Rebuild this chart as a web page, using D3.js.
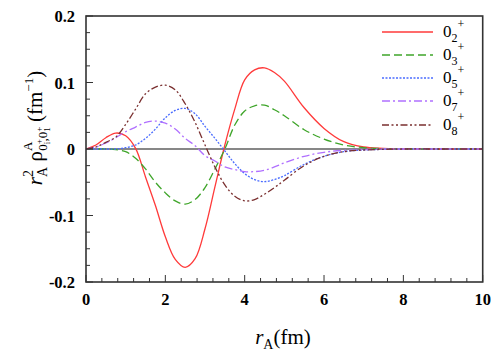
<!DOCTYPE html>
<html><head><meta charset="utf-8">
<script src="https://cdn.jsdelivr.net/npm/d3@7"></script>
<style>body{margin:0;background:#fff}svg{display:block}</style>
</head><body>
<svg id="c" width="498" height="363"></svg>
<script>
const xs = [0,0.25,0.5,0.75,1,1.25,1.5,1.75,2,2.25,2.5,2.75,3,3.25,3.5,3.75,4,4.25,4.5,4.75,5,5.5,6,6.5,7,7.5,8,9,10];
const red02    = [0,0.006,0.017,0.024,0.020,0.001,-0.042,-0.085,-0.132,-0.166,-0.178,-0.165,-0.120,-0.057,0.006,0.060,0.104,0.119,0.122,0.115,0.102,0.062,0.031,0.011,0.003,0.001,0,0,0];
const green03  = [0,0,0,-0.001,-0.004,-0.014,-0.030,-0.050,-0.066,-0.078,-0.083,-0.076,-0.058,-0.030,0.0,0.036,0.057,0.065,0.066,0.059,0.050,0.029,0.015,0.006,0.002,0.0005,0,0,0];
const blue05   = [0,0,0,0,0.002,0.006,0.016,0.030,0.047,0.058,0.061,0.053,0.034,0.016,-0.003,-0.022,-0.037,-0.046,-0.049,-0.046,-0.040,-0.023,-0.011,-0.004,-0.0015,-0.0005,0,0,0];
const purple07 = [0,0.003,0.009,0.017,0.026,0.033,0.040,0.042,0.039,0.030,0.016,0.005,-0.010,-0.018,-0.027,-0.031,-0.034,-0.034,-0.032,-0.027,-0.021,-0.011,-0.005,-0.002,-0.001,0,0,0,0];
const brown08  = [0,0.003,0.010,0.018,0.037,0.060,0.083,0.093,0.096,0.089,0.068,0.040,0.006,-0.027,-0.054,-0.071,-0.078,-0.076,-0.068,-0.058,-0.047,-0.025,-0.011,-0.004,-0.0015,-0.0005,0,0,0];
const seriesNames = ["2","3","5","7","8"];
const xTicks = [0,2,4,6,8,10];
const yTicks = [-0.2,-0.1,0,0.1,0.2];
const yTickLabels = ["-0.2","-0.1","0","0.1","0.2"];

const series = [
  {name:seriesNames[0], vals:red02,    color:"#ff3a3a", dash:null},
  {name:seriesNames[1], vals:green03,  color:"#3fa52a", dash:"8,4"},
  {name:seriesNames[2], vals:blue05,   color:"#4a6cff", dash:"2,1.5"},
  {name:seriesNames[3], vals:purple07, color:"#b070ff", dash:"8,3,2,3"},
  {name:seriesNames[4], vals:brown08,  color:"#7a2f2f", dash:"7,2.5,2,2.5,2,2.5"}
];

const FF = "Liberation Serif";
const svg = d3.select("#c");
const L=86, R=482.7, T=16, B=282;
const x = d3.scaleLinear().domain([0,10]).range([L,R]);
const y = d3.scaleLinear().domain([-0.2,0.2]).range([B,T]);

svg.append("line").attr("x1",x(0)).attr("x2",x(10)).attr("y1",y(0)).attr("y2",y(0))
  .attr("stroke","#111").attr("stroke-width",1.2);

const line = d3.line().x((d,i)=>x(xs[i])).y(d=>y(d)).curve(d3.curveCatmullRom.alpha(0.5));
series.forEach(s=>{
  svg.append("path").attr("d",line(s.vals)).attr("fill","none")
    .attr("stroke",s.color).attr("stroke-width",1.3)
    .attr("stroke-dasharray",s.dash);
});

svg.append("rect").attr("x",L).attr("y",T).attr("width",R-L).attr("height",B-T)
  .attr("fill","none").attr("stroke","#333").attr("stroke-width",1.6);

const xMinor = d3.range(0,10.0001,0.4);
svg.append("g").selectAll("line").data(xMinor).join("line")
  .attr("x1",d=>x(d)).attr("x2",d=>x(d)).attr("y1",B).attr("y2",d=>B-((Math.abs(d/2-Math.round(d/2))<1e-6)?7:4))
  .attr("stroke","#333").attr("stroke-width",1);
svg.append("g").selectAll("text").data(xTicks).join("text")
  .attr("x",d=>x(d)).attr("y",305).attr("text-anchor","middle")
  .style("font-family",FF).style("font-weight","bold").style("font-size","16.5px").text(d=>d);

const yMinor = d3.range(-0.2,0.2001,0.025);
svg.append("g").selectAll("line").data(yMinor).join("line")
  .attr("x1",L).attr("x2",d=>L+((Math.abs(d*10-Math.round(d*10))<1e-6)?7:4)).attr("y1",d=>y(d)).attr("y2",d=>y(d))
  .attr("stroke","#333").attr("stroke-width",1);
svg.append("g").selectAll("text").data(yTicks).join("text")
  .attr("x",75).attr("y",d=>y(d)+6).attr("text-anchor","end")
  .style("font-family",FF).style("font-weight","bold").style("font-size","16.5px").text((d,i)=>yTickLabels[i]);

function rich(g, segs){
  let cur=0;
  segs.forEach(s=>{
    const sh = s.shift||0;
    const t = g.append("tspan").text(s.t).attr("dy",sh-cur).style("font-size",s.size+"px").style("font-family",FF);
    if(s.dx) t.attr("dx",s.dx);
    if(s.it) t.style("font-style","italic");
    cur=sh;
  });
}

const xl = svg.append("text").attr("x",283).attr("y",344).attr("text-anchor","middle")
  .style("font-family",FF).style("font-size","21px");
rich(xl,[{t:"r",it:1,size:21},{t:"A",size:14,shift:5},{t:"(fm)",size:21,shift:0}]);

const yl = svg.append("text").attr("transform","translate(42,128) rotate(-90)").attr("text-anchor","middle")
  .style("font-family",FF).style("font-size","21px");
rich(yl,[
  {t:"r",it:1,size:21},{t:"2",size:14,shift:-9},{t:"A",size:14,shift:5,dx:-7},
  {t:" ρ",size:21,shift:0},{t:"A",size:13,shift:-10},{t:"0",size:13,shift:5,dx:-9},
  {t:"+",size:9,shift:0},{t:"i",size:9,shift:8,dx:-5},{t:",0",size:13,shift:5},
  {t:"+",size:9,shift:0},{t:"1",size:9,shift:8,dx:-5},
  {t:" (fm",size:21,shift:0},{t:"−1",size:13,shift:-9},{t:")",size:21,shift:0}
]);

const ly=[32,55,78,101,125];
series.forEach((s,i)=>{
  svg.append("line").attr("x1",382).attr("x2",433).attr("y1",ly[i]).attr("y2",ly[i])
    .attr("stroke",s.color).attr("stroke-width",1.3).attr("stroke-dasharray",s.dash);
  const t=svg.append("text").attr("x",443).attr("y",ly[i]+5).style("font-family",FF).style("font-size","17px");
  rich(t,[{t:"0",size:17},{t:s.name,size:12,shift:5},{t:"+",size:12,shift:-9}]);
});
</script>
</body></html>
